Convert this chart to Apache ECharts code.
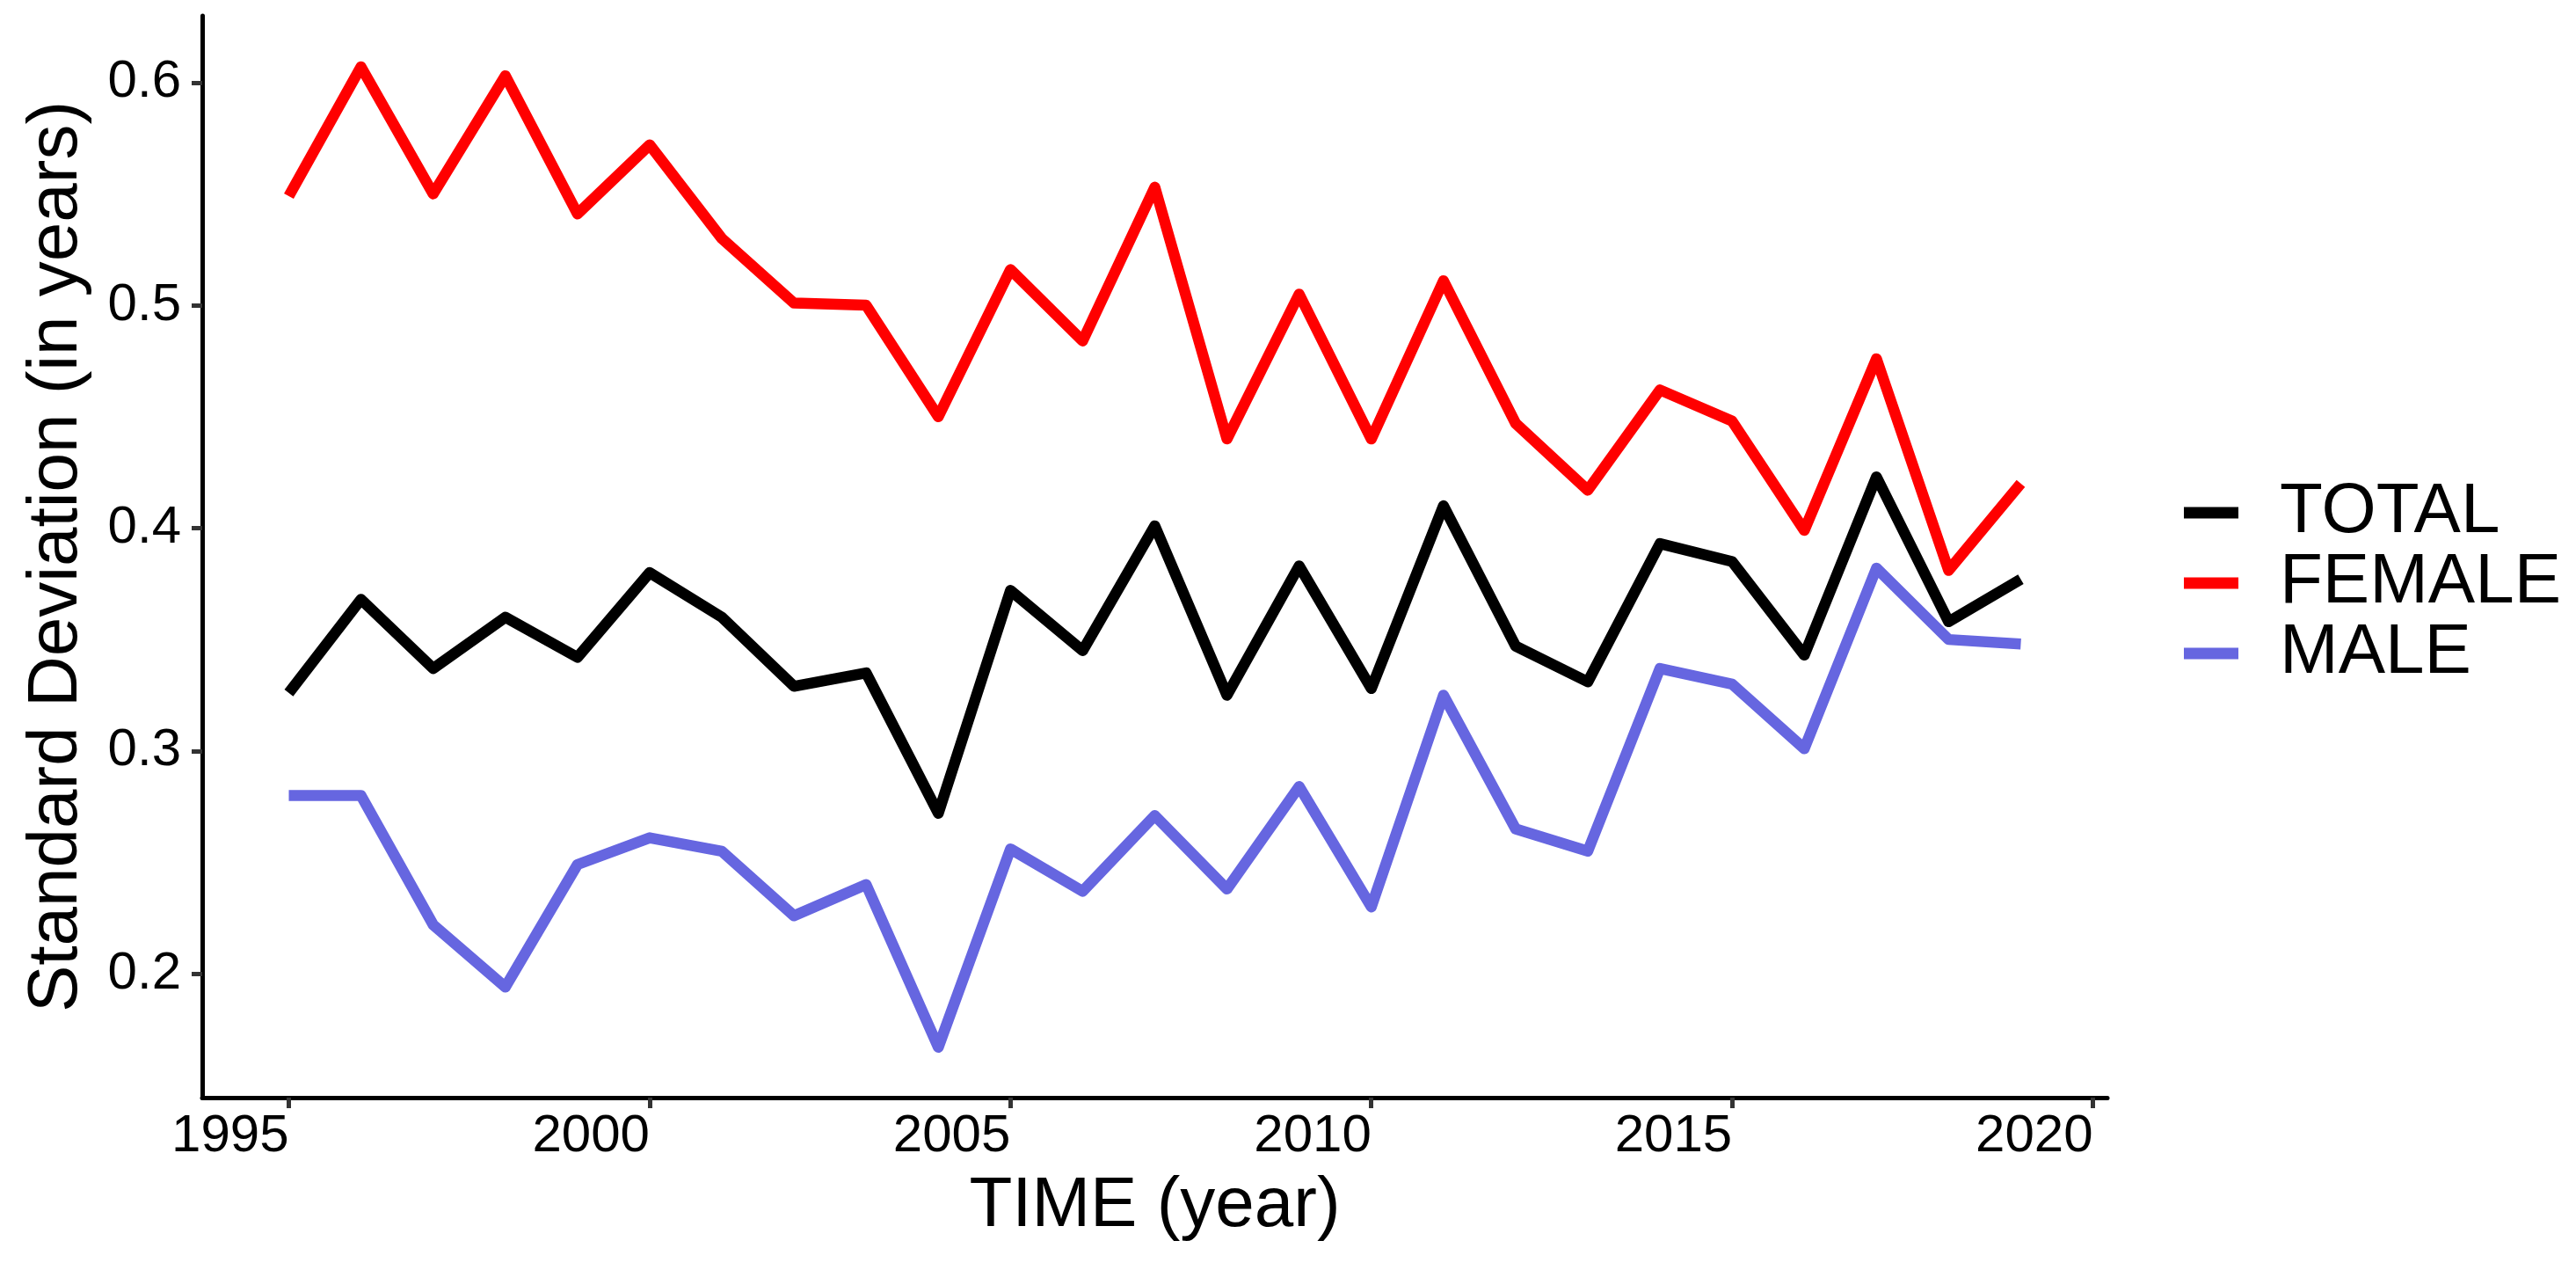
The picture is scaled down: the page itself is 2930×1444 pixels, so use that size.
<!DOCTYPE html>
<html>
<head>
<meta charset="utf-8">
<script src="https://cdn.jsdelivr.net/npm/echarts@6/dist/echarts.min.js"></script>
<style>
html,body{margin:0;padding:0;background:#fff;}
#chart{width:2930px;height:1444px;}
</style>
</head>
<body>
<div id="chart"></div>
<script>
var years = [1995,1996,1997,1998,1999,2000,2001,2002,2003,2004,2005,2006,2007,2008,2009,2010,2011,2012,2013,2014,2015,2016,2017,2018,2019];
var totalSD  = [0.326,0.368,0.337,0.360,0.342,0.380,0.360,0.329,0.335,0.272,0.372,0.345,0.401,0.325,0.383,0.328,0.410,0.347,0.331,0.393,0.385,0.343,0.423,0.358,0.377];
var femaleSD = [0.549,0.607,0.550,0.603,0.541,0.572,0.530,0.501,0.500,0.450,0.516,0.484,0.553,0.440,0.505,0.440,0.511,0.447,0.417,0.462,0.448,0.399,0.476,0.381,0.420];
var maleSD   = [0.280,0.280,0.222,0.194,0.249,0.261,0.255,0.226,0.240,0.167,0.256,0.237,0.271,0.238,0.284,0.230,0.325,0.265,0.255,0.337,0.330,0.301,0.382,0.350,0.348];
var xTicks = [1995,2000,2005,2010,2015,2020];
var yTicks = [0.2,0.3,0.4,0.5,0.6];
var seriesNames = ['TOTAL','FEMALE','MALE'];
var seriesColors = ['#000000','#FF0000','#6666E0'];

function pairs(vals){ return years.map(function(y,i){ return [y, vals[i]]; }); }
var allVals = [totalSD, femaleSD, maleSD];

var FONT = 'Liberation Sans, Arial, sans-serif';
var chart = echarts.init(document.getElementById('chart'), null, {renderer:'canvas'});
chart.setOption({
  backgroundColor:'#ffffff',
  animation:false,
  grid:{left:230,right:533,top:18,bottom:196,outerBoundsMode:'none',containLabel:false},
  legend:{
    orient:'vertical', left:2479, top:538,
    itemWidth:62, itemHeight:13, itemGap:0, icon:'rect',
    data:seriesNames,
    textStyle:{fontFamily:FONT,fontSize:80,color:'#000',lineHeight:77,padding:[0,0,0,42]}
  },
  xAxis:{
    type:'value', min:1993.8, max:2020.2,
    name:'TIME (year)', nameLocation:'middle', nameGap:84,
    nameTextStyle:{fontFamily:FONT,fontSize:80,color:'#000',lineHeight:80},
    splitLine:{show:false},
    axisLine:{show:true,onZero:false,lineStyle:{color:'#000',width:5}},
    axisTick:{show:true,customValues:xTicks,length:12,lineStyle:{color:'#333333',width:5}},
    axisLabel:{customValues:xTicks,margin:14,align:'right',fontFamily:FONT,fontSize:60,lineHeight:60,color:'#000',
      formatter:function(v){return String(Math.round(v));}}
  },
  yAxis:{
    type:'value', min:0.1444, max:0.6299,
    name:'Standard Deviation (in years)', nameLocation:'middle', nameGap:125, nameRotate:90,
    nameTextStyle:{fontFamily:FONT,fontSize:80,color:'#000',lineHeight:80},
    splitLine:{show:false},
    axisLine:{show:true,onZero:false,lineStyle:{color:'#000',width:5}},
    axisTick:{show:true,customValues:yTicks,length:12,lineStyle:{color:'#333333',width:5}},
    axisLabel:{customValues:yTicks,margin:24,fontFamily:FONT,fontSize:60,lineHeight:60,color:'#000',
      formatter:function(v){return v.toFixed(1);}}
  },
  series: seriesNames.map(function(n,i){
    return {
      name:n, type:'line', data:pairs(allVals[i]), showSymbol:false, symbol:'none',
      color:seriesColors[i],
      itemStyle:{color:seriesColors[i]},
      lineStyle:{color:seriesColors[i],width:12.5,join:'round',cap:'butt'},
      emphasis:{disabled:true}
    };
  })
});
</script>
</body>
</html>
